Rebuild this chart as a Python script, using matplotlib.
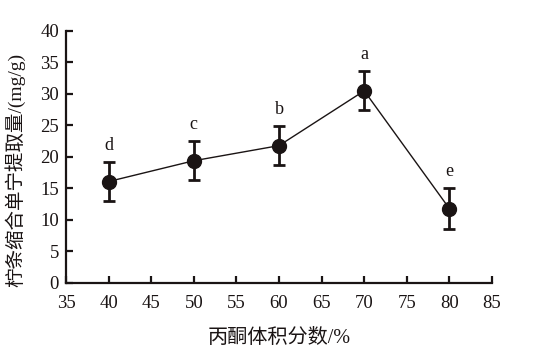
import numpy as np
import matplotlib.pyplot as plt

# acetone volume fraction (%) vs tannin yield (mg/g)
acetone = [40, 50, 60, 70, 80]
yield_mg = [16.1, 19.4, 21.8, 30.5, 11.8]
yield_err = [3.1, 3.1, 3.1, 3.1, 3.2]
sig_letters = ["d", "c", "b", "a", "e"]

plt.rcParams['font.family'] = ['Liberation Serif', 'Noto Sans CJK SC']

fig = plt.figure(figsize=(5.38, 3.6), dpi=100)
ax = fig.add_axes([0.1227, 0.214, 0.7918, 0.7])

ax.errorbar(acetone, yield_mg, yerr=yield_err, color="#1a1414", fmt="-o",
            lw=1.0, markersize=10, elinewidth=2, capsize=4, capthick=2)

for x, y, e, s in zip(acetone, yield_mg, yield_err, sig_letters):
    ax.text(x, y + e + 1.3, s, ha="center", va="bottom", fontsize=13, color="#1a1414")

ax.set_xlim(35, 85)
ax.set_ylim(0, 40)
ax.set_xticks(np.arange(35, 86, 5))
ax.set_yticks(np.arange(0, 41, 5))
ax.spines["top"].set_visible(False)
ax.spines["right"].set_visible(False)
for sp in ("left", "bottom"):
    ax.spines[sp].set_linewidth(1.6)
    ax.spines[sp].set_color("#1a1414")
ax.tick_params(direction="in", length=5, width=1.6, labelsize=13.5, colors="#1a1414")
ax.tick_params(axis="x", pad=9)
ax.tick_params(axis="y", pad=5)

ax.set_xlabel("丙酮体积分数/%", fontsize=14.5, labelpad=12, color="#1a1414")
ax.set_ylabel("柠条缩合单宁提取量/(mg/g)", fontsize=14, color="#1a1414")
ax.yaxis.set_label_coords(-0.095, 0.45)

fig.savefig("out.png", dpi=100)
